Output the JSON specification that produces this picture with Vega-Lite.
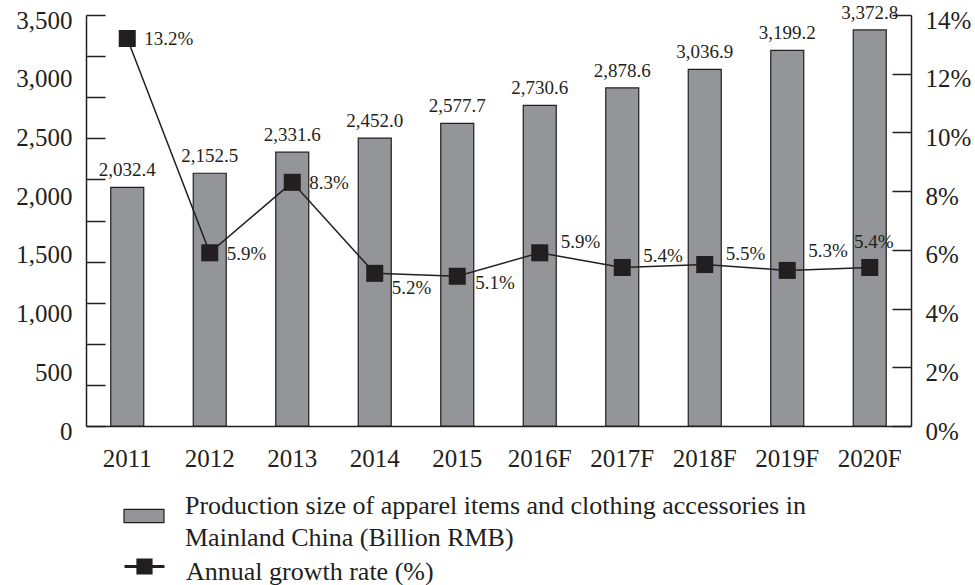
{
  "$schema": "https://vega.github.io/schema/vega-lite/v6.json",
  "width": 825,
  "height": 411,
  "autosize": "none",
  "padding": {"left": 86, "top": 15, "right": 64, "bottom": 159},
  "background": "white",
  "config": {
    "view": {"stroke": null},
    "font": "Liberation Serif",
    "axis": {"grid": false, "title": null, "labelFont": "Liberation Serif", "labelFontSize": 25, "labelColor": "#231f20", "domainColor": "#231f20", "tickColor": "#231f20", "domainWidth": 1.5, "tickWidth": 1.5},
    "legend": {"labelFont": "Liberation Serif", "labelFontSize": 26, "labelColor": "#231f20", "labelLimit": 900, "padding": 0, "title": null}
  },
  "data": {
    "values": [
      {"year": "2011", "value": 2032.4, "growth": 0.132},
      {"year": "2012", "value": 2152.5, "growth": 0.059},
      {"year": "2013", "value": 2331.6, "growth": 0.083},
      {"year": "2014", "value": 2452.0, "growth": 0.052},
      {"year": "2015", "value": 2577.7, "growth": 0.051},
      {"year": "2016F", "value": 2730.6, "growth": 0.059},
      {"year": "2017F", "value": 2878.6, "growth": 0.054},
      {"year": "2018F", "value": 3036.9, "growth": 0.055},
      {"year": "2019F", "value": 3199.2, "growth": 0.053},
      {"year": "2020F", "value": 3372.8, "growth": 0.054}
    ]
  },
  "layer": [
    {
      "encoding": {
        "x": {"field": "year", "type": "ordinal", "sort": null, "scale": {"paddingInner": 0.6, "paddingOuter": 0.3},
          "axis": {"ticks": false, "labelAngle": 0, "labelPadding": 20, "domain": true}}
      },
      "layer": [
        {"mark": {"type": "bar", "stroke": "#231f20", "strokeWidth": 1.2},
         "encoding": {
           "y": {"field": "value", "type": "quantitative", "scale": {"domain": [0, 3500], "nice": false},
             "axis": {"orient": "left", "values": [0, 500, 1000, 1500, 2000, 2500, 3000, 3500], "format": ",d", "ticks": false, "labelPadding": 14, "labelOffset": 5}},
           "fill": {"datum": "Production size of apparel items and clothing accessories in|Mainland China (Billion RMB)", "type": "nominal", "scale": {"range": ["#939598"]},
           "legend": {"orient": "none", "legendX": 37, "legendY": 480, "symbolType": "M-1,-0.33H1V0.33H-1Z", "symbolSize": 1600, "symbolStrokeColor": "#231f20", "symbolStrokeWidth": 1.2, "labelOffset": 20, "labelExpr": "split(datum.label, '|')",
             "encode": {"labels": {"update": {"lineHeight": {"value": 32}, "dy": {"value": -10}}}}}}}},
        {"mark": {"type": "text", "baseline": "bottom", "dy": -7, "fontSize": 19, "color": "#231f20"},
         "encoding": {
           "y": {"field": "value", "type": "quantitative",
             "axis": {"orient": "left", "values": [0, 350, 700, 1050, 1400, 1750, 2100, 2450, 2800, 3150, 3500], "labels": false, "domain": false, "tickSize": -19}},
           "text": {"field": "value", "type": "quantitative", "format": ",.1f"}}}
      ],
      "resolve": {"axis": {"y": "independent"}}
    },
    {
      "encoding": {
        "x": {"field": "year", "type": "ordinal", "sort": null},
        "y": {"field": "growth", "type": "quantitative", "scale": {"domain": [0, 0.14], "nice": false},
          "axis": {"orient": "right", "values": [0, 0.02, 0.04, 0.06, 0.08, 0.1, 0.12, 0.14], "format": ".0%", "tickSize": -19, "labelPadding": 33, "labelOffset": 5}}
      },
      "layer": [
        {"mark": {"type": "line", "strokeWidth": 1.5},
         "encoding": {"stroke": {"datum": "Annual growth rate (%)", "type": "nominal", "scale": {"range": ["#231f20"]},
           "legend": {"orient": "none", "legendX": 37, "legendY": 530, "symbolType": "M-1,0H1M-0.33,-0.33H0.33V0.33H-0.33Z", "symbolSize": 1600, "labelOffset": 20,
             "encode": {"symbols": {"update": {"fill": {"value": "#231f20"}, "stroke": {"value": "#231f20"}, "strokeWidth": {"value": 3}}}, "labels": {"update": {"dy": {"value": 5}}}}}}}},
        {"mark": {"type": "point", "shape": "square", "filled": true, "size": 290, "color": "#231f20", "opacity": 1}},
        {"transform": [{"filter": "indexof(['2011','2012','2013'], datum.year) >= 0"}],
         "mark": {"type": "text", "align": "left", "baseline": "middle", "dx": 17, "dy": 1, "fontSize": 19, "color": "#231f20"},
         "encoding": {"text": {"field": "growth", "type": "quantitative", "format": ".1%"}}},
        {"transform": [{"filter": "datum.year == '2014'"}],
         "mark": {"type": "text", "align": "left", "baseline": "middle", "dx": 17, "dy": 15, "fontSize": 19, "color": "#231f20"},
         "encoding": {"text": {"field": "growth", "type": "quantitative", "format": ".1%"}}},
        {"transform": [{"filter": "datum.year == '2015'"}],
         "mark": {"type": "text", "align": "left", "baseline": "middle", "dx": 18, "dy": 7, "fontSize": 19, "color": "#231f20"},
         "encoding": {"text": {"field": "growth", "type": "quantitative", "format": ".1%"}}},
        {"transform": [{"filter": "indexof(['2016F','2017F','2018F'], datum.year) >= 0"}],
         "mark": {"type": "text", "align": "left", "baseline": "middle", "dx": 21, "dy": -11, "fontSize": 19, "color": "#231f20"},
         "encoding": {"text": {"field": "growth", "type": "quantitative", "format": ".1%"}}},
        {"transform": [{"filter": "datum.year == '2019F'"}],
         "mark": {"type": "text", "align": "left", "baseline": "middle", "dx": 21, "dy": -19, "fontSize": 19, "color": "#231f20"},
         "encoding": {"text": {"field": "growth", "type": "quantitative", "format": ".1%"}}},
        {"transform": [{"filter": "datum.year == '2020F'"}],
         "mark": {"type": "text", "align": "center", "baseline": "middle", "dx": 4, "dy": -25, "fontSize": 19, "color": "#231f20"},
         "encoding": {"text": {"field": "growth", "type": "quantitative", "format": ".1%"}}}
      ]
    }
  ],
  "resolve": {"scale": {"y": "independent"}}
}
